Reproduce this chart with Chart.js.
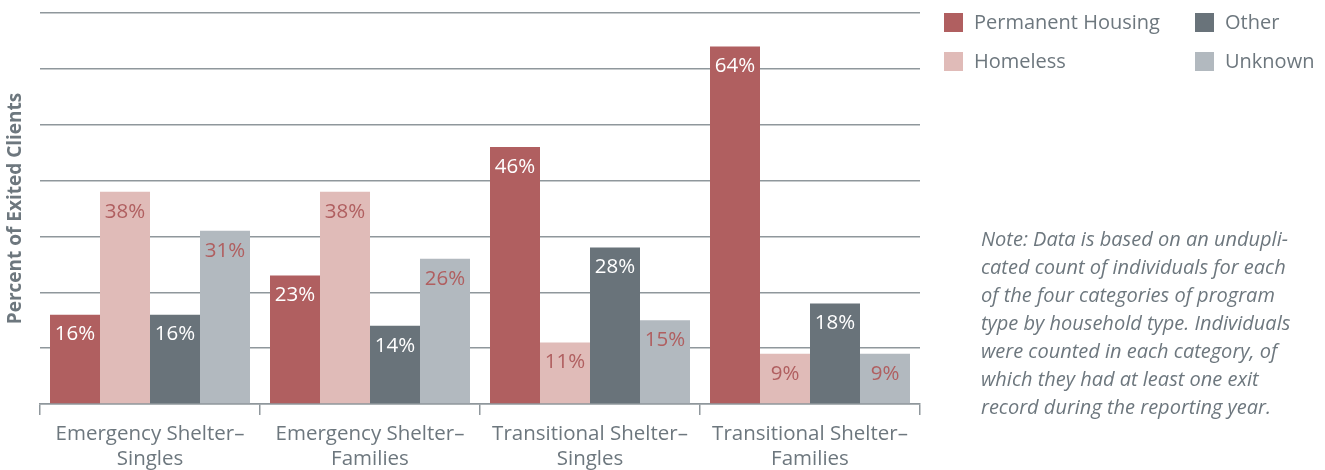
<!DOCTYPE html>
<html>
<head>
<meta charset="utf-8">
<script src="https://cdn.jsdelivr.net/npm/chart.js@4"></script>
<style>
  html, body { margin: 0; padding: 0; background: #fff; }
  #wrap { position: relative; width: 1325px; height: 470px; }
</style>
</head>
<body>
<div id="wrap"><canvas id="exitChart" width="1325" height="470"></canvas></div>
<script>
const categories = [
  ['Emergency Shelter–', 'Singles'],
  ['Emergency Shelter–', 'Families'],
  ['Transitional Shelter–', 'Singles'],
  ['Transitional Shelter–', 'Families']
];
const permanentHousing = [16, 23, 46, 64];
const homeless = [38, 38, 11, 9];
const other = [16, 14, 28, 18];
const unknown = [31, 26, 15, 9];

const noteLines = [
  'Note: Data is based on an undupli-',
  'cated count of individuals for each',
  'of the four categories of program',
  'type by household type. Individuals',
  'were counted in each category, of',
  'which they had at least one exit',
  'record during the reporting year.'
];

const textGray = '#6d777e';
const gridGray = '#8f979c';
const FONT = "'Open Sans', 'Noto Sans', sans-serif";

// percent labels inside the top of each bar
const barLabels = {
  id: 'barLabels',
  afterDatasetsDraw(chart) {
    const ctx = chart.ctx;
    ctx.save();
    ctx.font = '20.5px ' + FONT;
    ctx.textAlign = 'center';
    ctx.textBaseline = 'middle';
    chart.data.datasets.forEach((ds, i) => {
      const meta = chart.getDatasetMeta(i);
      meta.data.forEach((bar, j) => {
        ctx.fillStyle = ds.labelColor;
        ctx.fillText(ds.data[j] + '%', bar.x, bar.y + 20);
      });
    });
    ctx.restore();
  }
};

// legend in two columns + the note, right of the plot
const sidePanel = {
  id: 'sidePanel',
  afterDraw(chart) {
    const ctx = chart.ctx;
    const ds = chart.data.datasets;
    const order = [0, 2, 1, 3];
    const cols = [944, 1195];
    const rows = [23, 62];
    ctx.save();
    ctx.font = '20px ' + FONT;
    ctx.textBaseline = 'middle';
    ctx.textAlign = 'left';
    order.forEach((di, k) => {
      const x = cols[k % 2];
      const y = rows[Math.floor(k / 2)];
      ctx.fillStyle = ds[di].backgroundColor;
      ctx.fillRect(x, y - 10, 19, 19);
      ctx.fillStyle = textGray;
      ctx.fillText(ds[di].label, x + 30, y);
    });

    ctx.font = 'italic 20px ' + FONT;
    noteLines.forEach((line, i) => {
      ctx.fillText(line, 981, 240 + i * 28);
    });
    ctx.restore();
  }
};

new Chart(document.getElementById('exitChart'), {
  type: 'bar',
  data: {
    labels: categories,
    datasets: [
      { label: 'Permanent Housing', data: permanentHousing, backgroundColor: '#b05f60', labelColor: '#ffffff' },
      { label: 'Homeless', data: homeless, backgroundColor: '#e0bbb8', labelColor: '#b05f60' },
      { label: 'Other', data: other, backgroundColor: '#69737a', labelColor: '#ffffff' },
      { label: 'Unknown', data: unknown, backgroundColor: '#b2b9bf', labelColor: '#b05f60' }
    ]
  },
  options: {
    responsive: false,
    animation: false,
    layout: { padding: { top: 13, right: 405, left: 0, bottom: 0 } },
    datasets: {
      bar: { categoryPercentage: 200 / 220, barPercentage: 1.0 }
    },
    plugins: {
      legend: { display: false },
      tooltip: { enabled: false }
    },
    scales: {
      x: {
        grid: {
          offset: true,
          drawOnChartArea: false,
          drawTicks: true,
          tickLength: 11,
          color: gridGray,
          lineWidth: 1.5
        },
        border: { display: true, color: gridGray, width: 1.5 },
        ticks: {
          color: textGray,
          font: { family: FONT, size: 20.5, lineHeight: 1.2 },
          padding: 7,
          maxRotation: 0
        },
        afterFit(scale) { scale.height = 66; }
      },
      y: {
        min: 0,
        max: 70,
        ticks: { display: false, stepSize: 10 },
        grid: { color: gridGray, lineWidth: 1.5, drawTicks: false },
        border: { display: false },
        title: {
          display: true,
          text: 'Percent of Exited Clients',
          color: textGray,
          font: { family: FONT, size: 19, weight: 'bold' },
          padding: { top: 4, bottom: 0 }
        },
        afterFit(scale) { scale.width = 40; }
      }
    }
  },
  plugins: [barLabels, sidePanel]
});
</script>
</body>
</html>
